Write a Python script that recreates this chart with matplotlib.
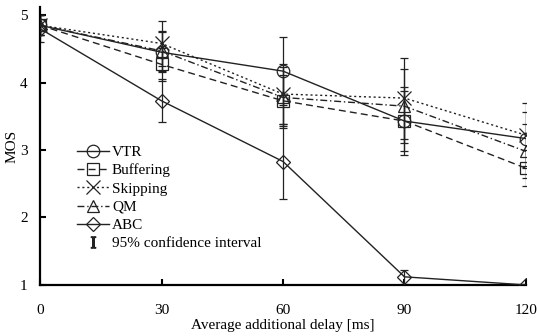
import matplotlib
matplotlib.use("Agg")
import matplotlib.pyplot as plt
from matplotlib.lines import Line2D

plt.rcParams['font.family'] = ['Liberation Serif', 'DejaVu Serif']
plt.rcParams['mathtext.fontset'] = 'custom'
plt.rcParams['mathtext.rm'] = 'Liberation Serif'

delays = [0, 30, 60, 90, 120]
series_names = ["VTR", "Buffering", "Skipping", "QM", "ABC"]
vtr = [4.85, 4.45, 4.17, 3.43, 3.17]
buffering = [4.85, 4.27, 3.73, 3.43, 2.73]
skipping = [4.85, 4.58, 3.83, 3.77, 3.22]
qm = [4.85, 4.47, 3.78, 3.65, 2.98]
abc = [4.80, 3.73, 2.83, 1.12, 1.00]
vtr_ci = [0.15, 0.30, 0.50, 0.50, 0.40]
buffering_ci = [0.15, 0.25, 0.38, 0.45, 0.27]
skipping_ci = [0.15, 0.33, 0.45, 0.60, 0.48]
qm_ci = [0.15, 0.30, 0.45, 0.55, 0.40]
abc_ci = [0.20, 0.32, 0.55, 0.10, 0.02]

values = [vtr, buffering, skipping, qm, abc]
cis = [vtr_ci, buffering_ci, skipping_ci, qm_ci, abc_ci]
markers = ['o', 's', 'x', '^', 'D']
styles = ['-', (0, (5, 3)), (0, (1.5, 2)), (0, (5, 2, 1, 2)), '-']
msizes = [9, 9, 10, 9, 7.5]

fig = plt.figure(figsize=(5.37, 3.36), dpi=100)
ax = fig.add_axes([0.0745, 0.152, 0.905, 0.827])

handles = []
for name, v, ci, m, ls, ms in zip(series_names, values, cis, markers, styles, msizes):
    ax.errorbar(delays, v, yerr=ci, fmt='none', ecolor='#222222', elinewidth=0.9,
                capsize=3, capthick=0.9, zorder=2)
    ln, = ax.plot(delays, v, color='#222222', linestyle=ls, linewidth=1.0,
                  marker=m, markersize=ms, markerfacecolor='none',
                  markeredgecolor='#222222', markeredgewidth=0.9, label=name, zorder=3)
    handles.append(ln)

ci_handle = Line2D([], [], linestyle='none', marker=r'$\mathrm{I}$', markersize=8,
                   color='#222222', label='95% confidence interval')
handles.append(ci_handle)

ax.set_xlim(0, 120)
ax.set_ylim(1, 5.12)
ax.set_xticks(delays)
ax.set_yticks([1, 2, 3, 4, 5])
ax.spines['top'].set_visible(False)
ax.spines['right'].set_visible(False)
ax.spines['left'].set_linewidth(1.6)
ax.spines['bottom'].set_linewidth(1.6)
ax.tick_params(direction='in', length=4, width=1.5, labelsize=11)
ax.tick_params(axis='y', pad=9)
ax.tick_params(axis='x', pad=14)
ax.set_xlabel('Average additional delay [ms]', fontsize=11, labelpad=1)
ax.set_ylabel('MOS', fontsize=11, labelpad=1)

ax.legend(handles=handles, loc='upper left', bbox_to_anchor=(0.06, 0.53),
          frameon=False, fontsize=11, handlelength=2.1, handletextpad=0.2,
          labelspacing=0.3, borderpad=0)

fig.savefig('out.png', dpi=100)
